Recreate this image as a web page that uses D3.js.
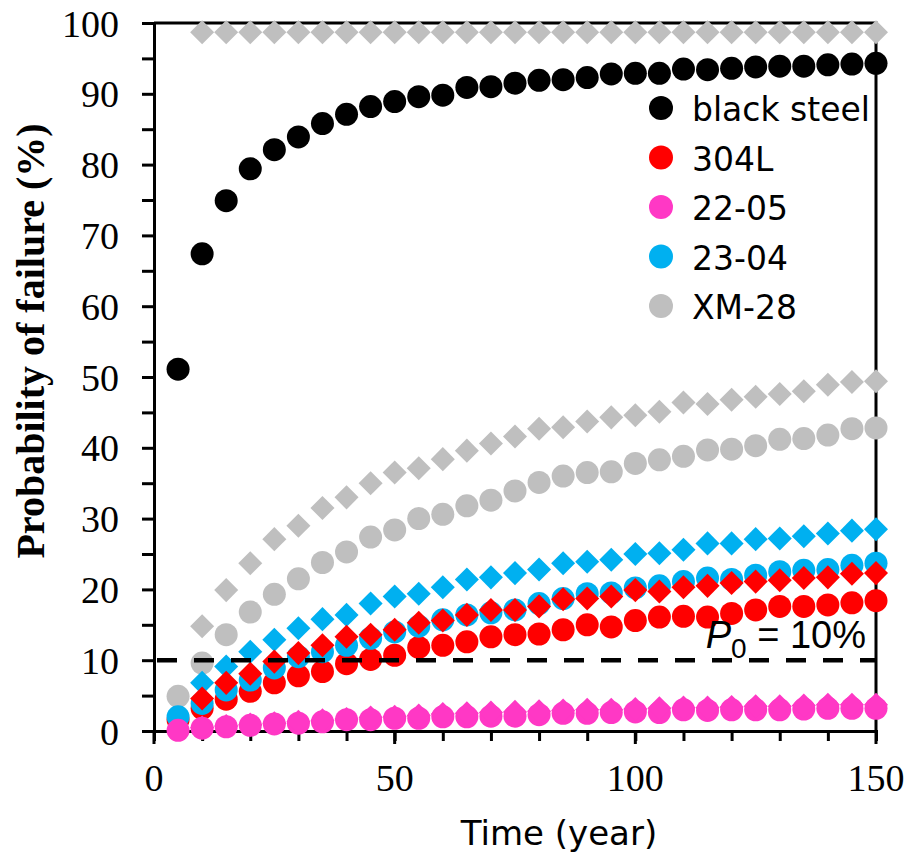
<!DOCTYPE html>
<html>
<head>
<meta charset="utf-8">
<script src="https://cdn.jsdelivr.net/npm/d3@7"></script>
<style>
  body { margin: 0; background: #fff; }
  #chart { width: 908px; height: 856px; }
</style>
</head>
<body>
<div id="chart"></div>
<script>
// time in years
const years = [5, 10, 15, 20, 25, 30, 35, 40, 45, 50, 55, 60, 65, 70, 75,
  80, 85, 90, 95, 100, 105, 110, 115, 120, 125, 130, 135, 140, 145, 150];

// circles
const blackSteel = [51.1, 67.4, 74.9, 79.4, 82.1, 83.9, 85.8, 87.1, 88.2, 88.9, 89.6, 89.8, 90.9, 91.0, 91.5,
  91.9, 92.0, 92.3, 92.8, 92.9, 92.9, 93.5, 93.4, 93.6, 93.8, 93.9, 93.9, 94.1, 94.2, 94.3];
const ss304L = [1.6, 3.2, 4.5, 5.6, 6.8, 7.8, 8.4, 9.5, 10.1, 10.7, 11.8, 12.1, 12.6, 13.3, 13.6,
  13.7, 14.3, 15.0, 14.7, 15.6, 16.1, 16.2, 16.1, 16.6, 17.1, 17.6, 17.6, 17.8, 18.1, 18.4];
const ss2205 = [0.1, 0.4, 0.6, 0.8, 1.0, 1.1, 1.3, 1.6, 1.6, 1.8, 1.8, 2.0, 2.0, 2.1, 2.1,
  2.3, 2.5, 2.5, 2.6, 2.7, 2.6, 3.0, 2.9, 3.0, 3.0, 3.0, 3.1, 3.2, 3.2, 3.2];
const ss2304 = [2.0, 3.9, 5.8, 7.2, 8.9, 10.5, 11.2, 12.1, 13.1, 14.0, 14.8, 15.7, 16.4, 16.7, 17.1,
  18.0, 18.7, 19.4, 19.5, 20.2, 20.5, 21.1, 21.6, 21.4, 22.0, 22.5, 22.7, 22.8, 23.4, 23.7];
const xm28 = [4.9, 9.6, 13.6, 16.8, 19.3, 21.5, 23.8, 25.3, 27.4, 28.4, 30.0, 30.6, 31.8, 32.6, 33.9,
  35.1, 36.0, 36.5, 36.6, 37.8, 38.3, 38.8, 39.7, 39.8, 40.3, 41.2, 41.3, 41.8, 42.7, 42.8];

// diamonds
const greyTopD = [null, 98.7, 98.7, 98.7, 98.7, 98.7, 98.7, 98.7, 98.7, 98.7, 98.7, 98.7, 98.7, 98.7, 98.7,
  98.7, 98.7, 98.7, 98.7, 98.7, 98.7, 98.7, 98.7, 98.7, 98.7, 98.7, 98.7, 98.7, 98.7, 98.7];
const xm28D = [null, 14.8, 19.9, 23.7, 27.1, 29.0, 31.5, 33.0, 35.0, 36.5, 37.1, 38.4, 39.6, 40.6, 41.6,
  42.7, 42.9, 43.7, 44.3, 44.6, 45.1, 46.4, 46.2, 46.8, 47.2, 47.6, 48.0, 48.9, 49.3, 49.4];
const ss2304D = [null, 6.8, 9.1, 11.2, 12.9, 14.5, 15.8, 16.4, 18.0, 19.0, 19.4, 20.3, 21.4, 21.7, 22.3,
  22.8, 23.7, 23.9, 24.2, 25.0, 25.1, 25.6, 26.5, 26.5, 27.1, 27.2, 27.5, 27.9, 28.3, 28.5];
const ss304LD = [null, 4.6, 6.8, 8.1, 9.8, 11.0, 12.1, 13.3, 13.6, 14.3, 15.3, 15.6, 16.4, 17.1, 17.1,
  17.6, 18.6, 18.7, 19.0, 19.9, 19.7, 20.3, 20.5, 20.9, 21.1, 21.3, 21.6, 21.7, 22.2, 22.3];
const ss2205D = [null, 0.5, 0.7, 0.9, 1.1, 1.3, 1.5, 1.7, 1.9, 2.0, 2.2, 2.4, 2.5, 2.6, 2.7,
  2.8, 2.9, 3.0, 3.0, 3.1, 3.2, 3.3, 3.3, 3.4, 3.5, 3.5, 3.6, 3.7, 3.7, 3.7];

const legendNames = ["black steel", "304L", "22-05", "23-04", "XM-28"];
const legendColors = ["#000000", "#ff0000", "#ff38c5", "#00b0f0", "#bfbfbf"];
const threshold = 10;

const width = 908, height = 856;
const margin = { left: 154, right: 32, top: 23, bottom: 125 };

const svg = d3.select("#chart").append("svg")
  .attr("width", width)
  .attr("height", height);

const x = d3.scaleLinear().domain([0, 150]).range([margin.left, width - margin.right]);
const y = d3.scaleLinear().domain([0, 100]).range([height - margin.bottom, margin.top]);

// frame (top + right)
svg.append("path")
  .attr("d", `M${x(0)},${y(100)}H${x(150)}V${y(0)}`)
  .attr("fill", "none")
  .attr("stroke", "#000")
  .attr("stroke-width", 3);

// y axis
const yAxis = svg.append("g")
  .attr("transform", `translate(${x(0)},0)`)
  .call(d3.axisLeft(y).tickValues(d3.range(0, 101, 5)).tickSize(12).tickFormat(""));
yAxis.select(".domain").attr("stroke-width", 3);
yAxis.selectAll(".tick line").attr("stroke-width", 3);

svg.append("g").selectAll("text")
  .data(d3.range(0, 101, 10))
  .enter().append("text")
  .attr("x", 119)
  .attr("y", d => y(d))
  .attr("dy", "0.36em")
  .attr("text-anchor", "end")
  .attr("font-family", "Liberation Serif, Times New Roman, serif")
  .attr("font-size", "38px")
  .text(d => d);

// x axis
const xAxis = svg.append("g")
  .attr("transform", `translate(0,${y(0)})`)
  .call(d3.axisBottom(x).tickValues(d3.range(0, 151, 10)).tickSize(10).tickFormat(""));
xAxis.select(".domain").attr("stroke-width", 3);
xAxis.selectAll(".tick line").attr("stroke-width", 3);

svg.append("g").selectAll("line")
  .data([0, 50, 100, 150])
  .enter().append("line")
  .attr("x1", d => x(d)).attr("x2", d => x(d))
  .attr("y1", y(0)).attr("y2", y(0) + 13)
  .attr("stroke", "#000")
  .attr("stroke-width", 3);

svg.append("g").selectAll("text")
  .data([0, 50, 100, 150])
  .enter().append("text")
  .attr("x", d => x(d))
  .attr("y", 791)
  .attr("text-anchor", "middle")
  .attr("font-family", "Liberation Serif, Times New Roman, serif")
  .attr("font-size", "38px")
  .text(d => d);

// axis titles
svg.append("text")
  .attr("x", 559)
  .attr("y", 845)
  .attr("text-anchor", "middle")
  .attr("font-family", "DejaVu Sans, sans-serif")
  .attr("font-size", "34px")
  .text("Time (year)");

svg.append("text")
  .attr("transform", "translate(44,341) rotate(-90)")
  .attr("text-anchor", "middle")
  .attr("font-family", "Liberation Serif, Times New Roman, serif")
  .attr("font-weight", "bold")
  .attr("font-size", "40px")
  .text("Probability of failure (%)");

// markers
const R = 11.5;
const diamond = d3.symbol().type(d3.symbolSquare).size(17 * 17);

function circles(vals, color) {
  svg.append("g").selectAll("circle")
    .data(years.map((t, i) => ({ t, v: vals[i] })).filter(d => d.v != null))
    .enter().append("circle")
    .attr("cx", d => x(d.t))
    .attr("cy", d => y(d.v))
    .attr("r", R)
    .attr("fill", color);
}

function diamonds(vals, color) {
  svg.append("g").selectAll("path")
    .data(years.map((t, i) => ({ t, v: vals[i] })).filter(d => d.v != null))
    .enter().append("path")
    .attr("d", diamond)
    .attr("transform", d => `translate(${x(d.t)},${y(d.v)}) rotate(45)`)
    .attr("fill", color);
}

circles(blackSteel, legendColors[0]);
diamonds(greyTopD, legendColors[4]);
circles(xm28, legendColors[4]);
diamonds(xm28D, legendColors[4]);
circles(ss304L, legendColors[1]);
circles(ss2304, legendColors[3]);
diamonds(ss2304D, legendColors[3]);
diamonds(ss304LD, legendColors[1]);
circles(ss2205, legendColors[2]);
diamonds(ss2205D, legendColors[2]);

// threshold line
svg.append("line")
  .attr("x1", x(0) + 3).attr("x2", x(150))
  .attr("y1", y(threshold)).attr("y2", y(threshold))
  .attr("stroke", "#000")
  .attr("stroke-width", 4.5)
  .attr("stroke-dasharray", "20,17");

const p0 = svg.append("text")
  .attr("x", 866)
  .attr("y", 648)
  .attr("text-anchor", "end")
  .attr("font-family", "Liberation Sans, Arial, sans-serif")
  .attr("font-size", "38px");
p0.append("tspan").attr("font-style", "italic").text("P");
p0.append("tspan").attr("font-size", "28px").attr("dy", 10).text("0");
p0.append("tspan").attr("dy", -10).text(" = 10%");

// legend
const legend = svg.append("g").selectAll("g")
  .data(legendNames)
  .enter().append("g")
  .attr("transform", (d, i) => `translate(661,${108 + i * 49.5})`);

legend.append("circle")
  .attr("r", 12)
  .attr("fill", (d, i) => legendColors[i]);

legend.append("text")
  .attr("x", 31)
  .attr("y", 13)
  .attr("font-family", "DejaVu Sans, sans-serif")
  .attr("font-size", "33px")
  .text(d => d);
</script>
</body>
</html>
